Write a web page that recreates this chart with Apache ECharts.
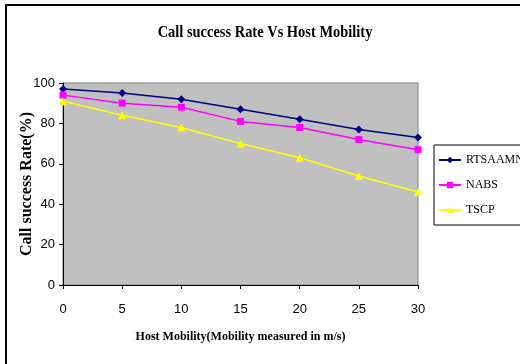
<!DOCTYPE html>
<html><head><meta charset="utf-8">
<script src="https://cdn.jsdelivr.net/npm/echarts@6/dist/echarts.min.js"></script>
<style>html,body{margin:0;padding:0;background:#fff}#c{width:520px;height:364px}</style>
</head><body><div id="c"></div>
<script>
const mobility = [0, 5, 10, 15, 20, 25, 30];
const rtsaamn = [97, 95, 92, 87, 82, 77, 73];
const nabs = [94, 90, 88, 81, 78, 72, 67];
const tscp = [91, 84, 78, 70, 63, 54, 46];
const seriesNames = ['RTSAAMN', 'NABS', 'TSCP'];
const titleText = 'Call success Rate Vs Host Mobility';

const pair = arr => mobility.map((x, i) => [x, arr[i]]);
const chart = echarts.init(document.getElementById('c'), null, {renderer: 'canvas'});
const serif = '"Liberation Serif", "Times New Roman", serif';
const sans = '"Liberation Sans Narrow", "Liberation Sans", Arial, sans-serif';
chart.setOption({
  animation: false,
  backgroundColor: '#fff',
  graphic: [
    {type: 'rect', shape: {x: 6, y: 5, width: 600, height: 400}, style: {fill: 'none', stroke: '#000', lineWidth: 2}, z: 100},
    {type: 'text', x: 265, y: 33, scaleX: 0.85, style: {text: titleText, font: 'bold 17px ' + serif, fill: '#000', textAlign: 'center', textVerticalAlign: 'middle'}}
  ],
  grid: {left: 63, top: 83, width: 355, height: 202, show: true, backgroundColor: '#c0c0c0', borderColor: '#808080', borderWidth: 1,
    outerBoundsMode: 'none', containLabel: false},
  legend: {orient: 'vertical', left: 434, top: 145, itemWidth: 22, itemHeight: 8, itemGap: 13,
    padding: [9, 30, 9, 4], borderColor: '#000', borderWidth: 1, backgroundColor: '#fff',
    textStyle: {fontFamily: serif, fontSize: 12, color: '#000'}, data: seriesNames},
  xAxis: {type: 'value', min: 0, max: 30, interval: 5,
    name: 'Host Mobility(Mobility measured in m/s)', nameLocation: 'middle', nameGap: 46, nameMoveOverlap: false,
    nameTextStyle: {fontFamily: serif, fontWeight: 'bold', fontSize: 12, color: '#000'},
    axisLine: {onZero: false, lineStyle: {color: '#000'}}, axisTick: {length: 4, lineStyle: {color: '#000'}},
    axisLabel: {fontFamily: sans, fontSize: 13, color: '#000', margin: 18}, splitLine: {show: false}},
  yAxis: {type: 'value', min: 0, max: 100, interval: 20,
    name: 'Call success Rate(%)', nameLocation: 'middle', nameGap: 28, nameRotate: 90, nameMoveOverlap: false,
    nameTextStyle: {fontFamily: serif, fontWeight: 'bold', fontSize: 16, color: '#000'},
    axisLine: {show: true, lineStyle: {color: '#000'}}, axisTick: {show: true, length: 4, lineStyle: {color: '#000'}},
    axisLabel: {fontFamily: sans, fontSize: 13, color: '#000', margin: 8}, splitLine: {show: false}},
  series: [
    {name: 'RTSAAMN', type: 'line', data: pair(rtsaamn), symbol: 'diamond', symbolSize: 8,
      lineStyle: {color: '#000080', width: 1.5}, itemStyle: {color: '#000080'}},
    {name: 'NABS', type: 'line', data: pair(nabs), symbol: 'rect', symbolSize: 7,
      lineStyle: {color: '#ff00ff', width: 1.5}, itemStyle: {color: '#ff00ff'}},
    {name: 'TSCP', type: 'line', data: pair(tscp), symbol: 'triangle', symbolSize: 8,
      lineStyle: {color: '#ffff00', width: 1.5}, itemStyle: {color: '#ffff00'}}
  ]
});
</script></body></html>
